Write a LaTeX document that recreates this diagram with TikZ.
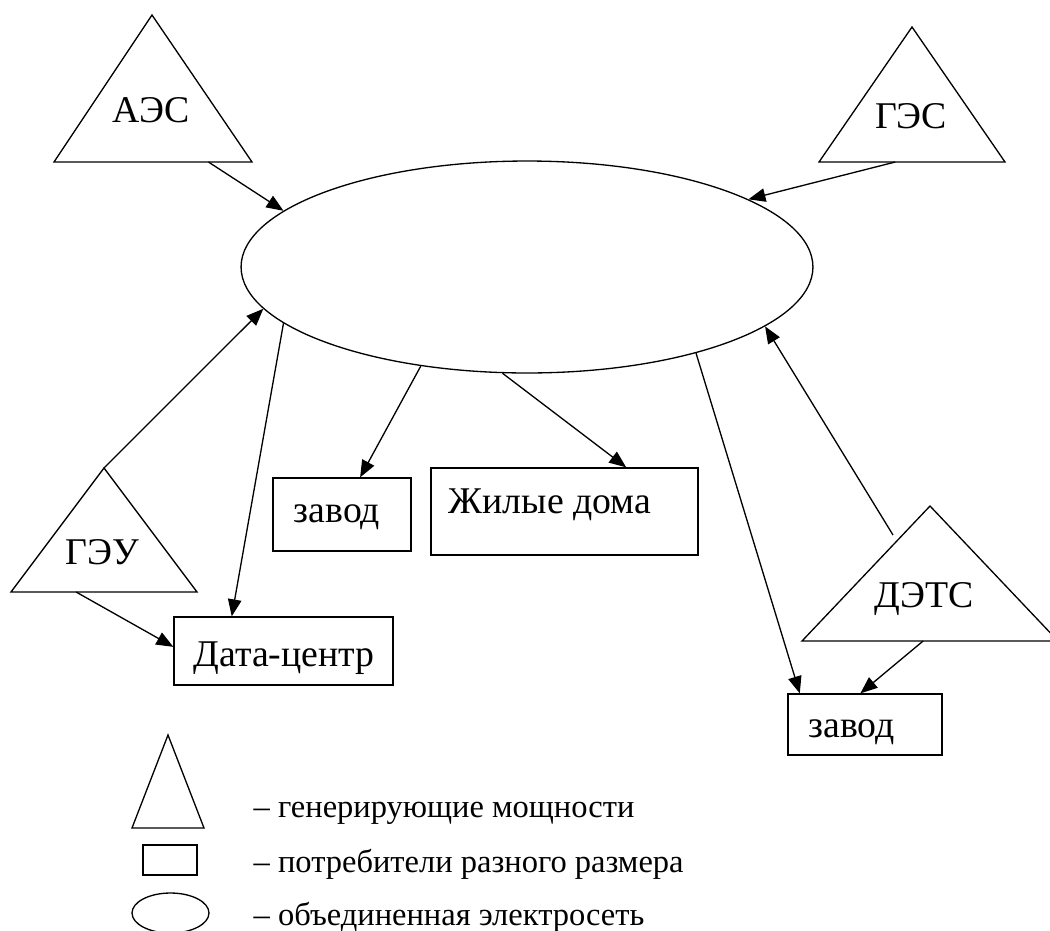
\documentclass[tikz,border=0pt]{standalone}
\usepackage{fontspec}
\setmainfont{Liberation Serif}
\usetikzlibrary{arrows.meta,calc,shapes.geometric}

\begin{document}
\begin{tikzpicture}[
  x=0.02cm,y=-0.02cm,
  >={Triangle[length=0.34cm,width=0.27cm]},
  line width=0.75pt,
  grid/.style={ellipse,draw,inner sep=0pt,minimum width=11.44cm,minimum height=4.24cm},
  gen/.style={draw,line join=miter},
  box/.style={rectangle,draw,inner sep=0pt},
  lbl/.style={anchor=base,inner sep=0pt,font=\fontsize{18.5}{22}\selectfont,scale=1.162,transform shape},
  legtxt/.style={anchor=base west,inner sep=0pt,font=\fontsize{18.5}{22}\selectfont},
  feed/.style={->}
]
\clip (0,0) rectangle (1050,930);
% united grid
\node[grid] (net) at (527,267) {};
% generating plants: apex, base corners
\coordinate (aes-t) at (152,15);   \coordinate (aes-l) at (54,162);   \coordinate (aes-r) at (252,162);
\coordinate (ges-t) at (912,27);   \coordinate (ges-l) at (819,162);  \coordinate (ges-r) at (1005,162);
\coordinate (geu-t) at (104,468);  \coordinate (geu-l) at (11,592);   \coordinate (geu-r) at (197,592);
\coordinate (dets-t) at (930,506); \coordinate (dets-l) at (802,641); \coordinate (dets-r) at (1058,641);
\foreach \g in {aes,ges,geu,dets}{
  \draw[gen] (\g-l) -- (\g-t) -- (\g-r) -- cycle;
}
\node[lbl] (aes) at (151,122) {АЭС};
\node[lbl] (ges) at (911,128) {ГЭС};
\node[lbl] (geu) at (102,564) {ГЭУ};
\node[lbl] (dets) at (924,607) {ДЭТС};
% consumers
\node[box,minimum width=2.76cm,minimum height=1.46cm] (plant1) at (342,514.5) {};
\node[box,minimum width=5.34cm,minimum height=1.74cm] (homes) at (564.5,511.5) {};
\node[box,minimum width=4.38cm,minimum height=1.36cm] (dc) at (283.5,651) {};
\node[box,minimum width=3.08cm,minimum height=1.22cm] (plant2) at (865,724.5) {};
\node[lbl] (plant1-t) at (337,522) {завод};
\node[lbl] (homes-t) at (550,513) {Жилые дома};
\node[lbl] (dc-t) at (284,666) {Дата-центр};
\node[lbl] (plant2-t) at (851.5,737) {завод};
% connector ends
\coordinate (aes-o) at ($(aes-l)!0.78!(aes-r)$);
\coordinate (ges-o) at ($(ges-l)!0.41!(ges-r)$);
\coordinate (geu-o) at ($(geu-l)!0.35!(geu-r)$);
\coordinate (dets-o1) at (893,535);
\coordinate (dets-o2) at ($(dets-l)!0.473!(dets-r)$);
% flows
\draw[feed] (aes-o) -- (net.167);
\draw[feed] (ges-o) -- (net.17);
\draw[feed] (geu-t) -- (net.189);
\draw[feed] (net.193) -- ($(dc.north west)!0.265!(dc.north east)$);
\draw[feed] (geu-o) -- ($(dc.north west)!0.44!(dc.south west)$);
\draw[feed] (net.223) -- ($(plant1.north west)!0.63!(plant1.north east)$);
\draw[feed] (net.257) -- ($(homes.north west)!0.73!(homes.north east)$);
\draw[feed] (dets-o1) -- (net.346.6);
\draw[feed] (net.333) -- ($(plant2.north west)!0.08!(plant2.north east)$);
\draw[feed] (dets-o2) -- ($(plant2.north west)!0.47!(plant2.north east)$);
% legend
\draw[gen] (132,828) -- (168,735) -- (204,828) -- cycle;
\node[box,minimum width=1.08cm,minimum height=0.6cm] (key-box) at (170,860) {};
\node[grid,minimum width=1.54cm,minimum height=0.8cm] (key-net) at (170.5,913) {};
\node[legtxt] (key1) at (253,817) {– генерирующие мощности};
\node[legtxt] (key2) at (253,872) {– потребители разного размера};
\node[legtxt] (key3) at (253,925) {– объединенная электросеть};
\end{tikzpicture}
\end{document}
